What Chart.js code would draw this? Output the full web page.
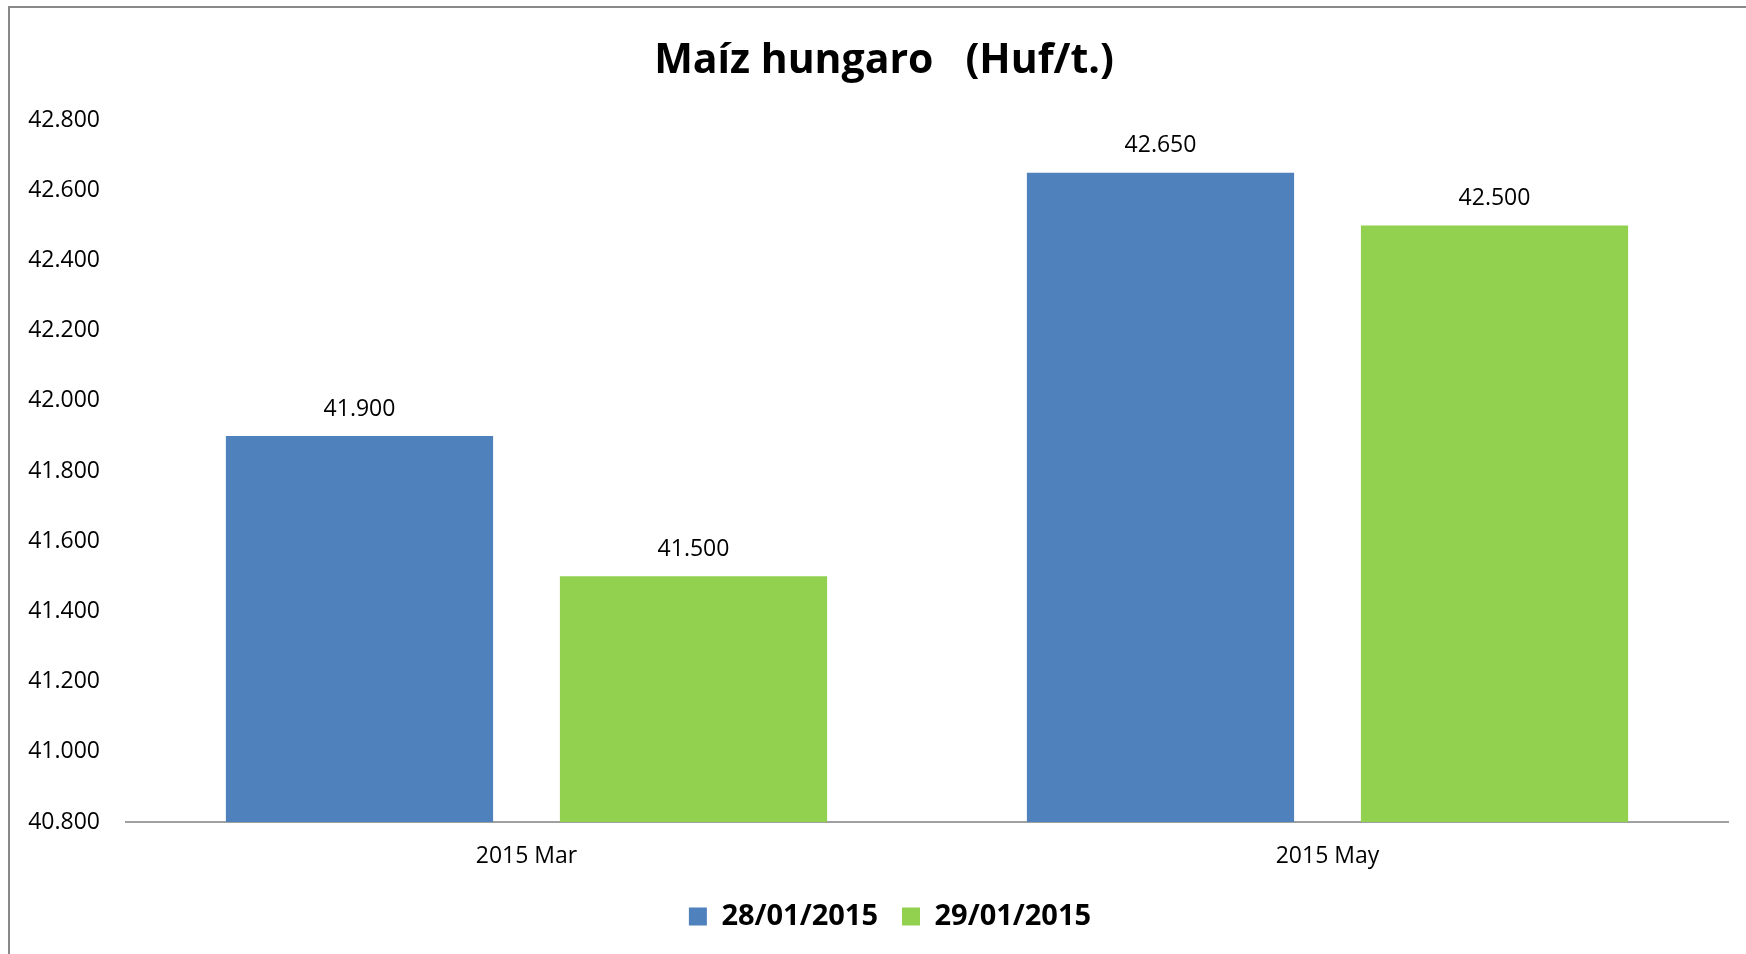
<!DOCTYPE html>
<html lang="es">
<head>
  <meta charset="UTF-8">
  <title>Maíz hungaro (Huf/t.)</title>
  <script src="https://cdn.jsdelivr.net/npm/chart.js"></script>
  <style>
    html, body {
      margin: 0;
      padding: 0;
      background: #fff;
      overflow: hidden;
    }
    .wrap {
      position: relative;
      width: 1746px;
      height: 954px;
    }
    .frame {
      position: absolute;
      left: 8px;
      top: 6px;
      width: 1800px;
      height: 1000px;
      border-top: 2px solid #898989;
      border-left: 2px solid #898989;
      pointer-events: none;
    }
  </style>
</head>
<body>
  <div class="wrap">
    <canvas id="grafico"></canvas>
    <div class="frame"></div>
  </div>

  <script>
    const categorias = ['2015 Mar', '2015 May'];
    const serie28 = [41900, 42650];
    const serie29 = [41500, 42500];
    const nombresSeries = ['28/01/2015', '29/01/2015'];

    const FONT = "'Open Sans', 'DejaVu Sans', sans-serif";

    // 42800 -> "42.800"
    function fmt(v) {
      return String(v).replace(/\B(?=(\d{3})+(?!\d))/g, '.');
    }

    // etiquetas encima de cada barra
    const etiquetasBarras = {
      id: 'etiquetasBarras',
      afterDatasetsDraw(chart) {
        const ctx = chart.ctx;
        ctx.save();
        ctx.font = '23px ' + FONT;
        ctx.fillStyle = '#000';
        ctx.textAlign = 'center';
        ctx.textBaseline = 'middle';
        chart.data.datasets.forEach((ds, i) => {
          chart.getDatasetMeta(i).data.forEach((bar, j) => {
            ctx.fillText(fmt(ds.data[j]), bar.x, bar.y - 27);
          });
        });
        ctx.restore();
      }
    };

    // el título y la leyenda van un poco a la derecha del centro
    const desplazar = {
      id: 'desplazar',
      afterLayout(chart) {
        chart.titleBlock.left += 10;
        chart.titleBlock.right += 10;
        chart.legend.left += 16;
        chart.legend.right += 16;
      }
    };

    new Chart(document.getElementById('grafico'), {
      type: 'bar',
      data: {
        labels: categorias,
        datasets: [
          {
            label: nombresSeries[0],
            data: serie28,
            backgroundColor: '#4F81BD',
            categoryPercentage: 0.834,
            barPercentage: 0.8
          },
          {
            label: nombresSeries[1],
            data: serie29,
            backgroundColor: '#92D050',
            categoryPercentage: 0.834,
            barPercentage: 0.8
          }
        ]
      },
      options: {
        responsive: true,
        maintainAspectRatio: false,
        animation: false,
        layout: {
          padding: { left: 20, right: 18, top: 0, bottom: 13 }
        },
        scales: {
          x: {
            grid: { display: false, drawTicks: false },
            border: { display: true, color: '#a0a0a0', width: 2 },
            afterFit(scale) { scale.height = 56; },
            ticks: {
              color: '#000',
              font: { family: FONT, size: 23 },
              padding: 21
            }
          },
          y: {
            min: 40800,
            max: 42800,
            grid: { display: false, drawTicks: false },
            border: { display: false },
            afterFit(scale) { scale.width = 106; },
            ticks: {
              stepSize: 200,
              color: '#000',
              font: { family: FONT, size: 23 },
              padding: 26,
              callback: (v) => fmt(v)
            }
          }
        },
        plugins: {
          title: {
            display: true,
            text: 'Maíz hungaro   (Huf/t.)',
            color: '#000',
            font: { family: FONT, size: 41, weight: 'bold' },
            padding: { top: 37, bottom: 34 }
          },
          legend: {
            position: 'bottom',
            labels: {
              color: '#000',
              font: { family: FONT, size: 29, weight: 'bold' },
              boxWidth: 18,
              boxHeight: 18,
              padding: 24
            }
          },
          tooltip: { enabled: false }
        }
      },
      plugins: [etiquetasBarras, desplazar]
    });
  </script>
</body>
</html>
